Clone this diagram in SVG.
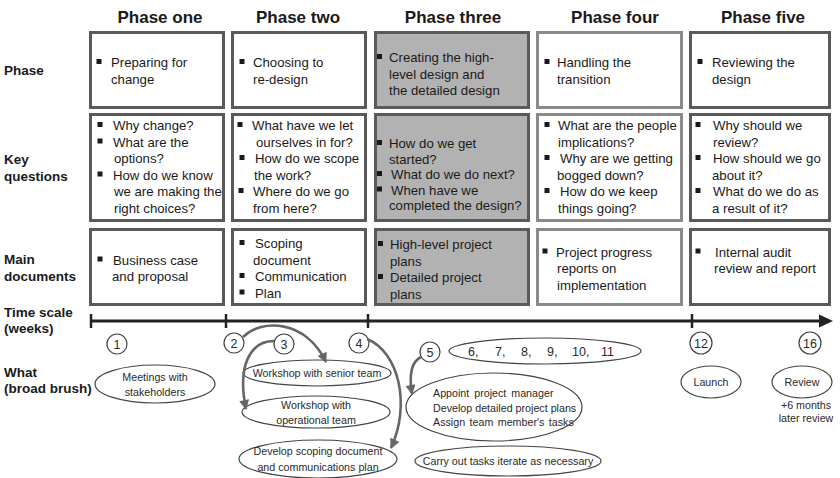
<svg xmlns="http://www.w3.org/2000/svg" width="840" height="478" viewBox="0 0 840 478">
  <defs>
    <style>
      .hdr { font: bold 17px "Liberation Sans", Arial, sans-serif; fill: #1a1a1a; text-anchor: middle; }
      .lbl { font: bold 13.5px "Liberation Sans", Arial, sans-serif; fill: #1a1a1a; }
      .box { fill: #ffffff; stroke: #5a5a5a; stroke-width: 3; }
      .shade { fill: #b2b2b2; }
      .light { stroke: #8a8a8a; }
      .txt { font: 13.2px "Liberation Sans", Arial, sans-serif; fill: #1a1a1a; }
      .bul { fill: #1a1a1a; }
      .ell { fill: #ffffff; stroke: #444444; stroke-width: 1.2; }
      .etx { font: 10.7px "Liberation Sans", Arial, sans-serif; fill: #2a2a2a; text-anchor: middle; }
      .etl { font: 10.7px "Liberation Sans", Arial, sans-serif; fill: #2a2a2a; }
      .num { font: 12.5px "Liberation Sans", Arial, sans-serif; fill: #2a2a2a; text-anchor: middle; }
      .seq { font: 12.5px "Liberation Sans", Arial, sans-serif; fill: #2a2a2a; }
      .axis { stroke: #222222; stroke-width: 3; fill: none; }
      .tick { stroke: #222222; stroke-width: 2.5; }
      .arc { fill: none; stroke: #666666; stroke-width: 2.6; marker-end: url(#ah); }
    </style>
    <marker id="ah" viewBox="0 0 10 10" refX="9" refY="5" markerWidth="11" markerHeight="10" markerUnits="userSpaceOnUse" orient="auto">
      <path d="M0,0 L10,5 L0,10 z" fill="#666666"/>
    </marker>
  </defs>

  <rect width="840" height="478" fill="#ffffff"/>

  <!-- column headings -->
  <g id="headings">
    <text class="hdr" x="160" y="23">Phase one</text>
    <text class="hdr" x="298" y="23">Phase two</text>
    <text class="hdr" x="453" y="23">Phase three</text>
    <text class="hdr" x="615" y="23">Phase four</text>
    <text class="hdr" x="763" y="23">Phase five</text>
  </g>

  <!-- row headings -->
  <g id="row-labels">
    <text class="lbl" x="4" y="75">Phase</text>
    <text class="lbl" x="4" y="164">Key</text>
    <text class="lbl" x="4" y="181">questions</text>
    <text class="lbl" x="4" y="264">Main</text>
    <text class="lbl" x="4" y="281">documents</text>
    <text class="lbl" x="4" y="317">Time scale</text>
    <text class="lbl" x="4" y="333">(weeks)</text>
    <text class="lbl" x="4" y="377">What</text>
    <text class="lbl" x="4" y="393">(broad brush)</text>
  </g>

  <!-- row 1: phase -->
  <g id="phase-1">
    <rect class="box" x="90.5" y="32.5" width="133" height="75"/>
    <rect class="bul" x="96.5" y="59" width="5" height="5"/>
    <text class="txt"><tspan x="111" y="67">Preparing for</tspan><tspan x="111" y="84">change</tspan></text>
  </g>
  <g id="phase-2">
    <rect class="box" x="232.5" y="32.5" width="133" height="75"/>
    <rect class="bul" x="239.5" y="59" width="5" height="5"/>
    <text class="txt"><tspan x="253" y="67">Choosing to</tspan><tspan x="253" y="84">re-design</tspan></text>
  </g>
  <g id="phase-3">
    <rect class="box shade" x="375.5" y="32.5" width="153" height="75"/>
    <rect class="bul" x="377" y="54" width="5" height="5"/>
    <text class="txt"><tspan x="389" y="62">Creating the high-</tspan><tspan x="389" y="78.5">level design and</tspan><tspan x="389" y="95">the detailed design</tspan></text>
  </g>
  <g id="phase-4">
    <rect class="box light" x="537.5" y="32.5" width="144" height="75"/>
    <rect class="bul" x="544.5" y="59" width="5" height="5"/>
    <text class="txt"><tspan x="557" y="67">Handling the</tspan><tspan x="557" y="84">transition</tspan></text>
  </g>
  <g id="phase-5">
    <rect class="box" x="690.5" y="32.5" width="139" height="75"/>
    <rect class="bul" x="697.5" y="59" width="5" height="5"/>
    <text class="txt"><tspan x="712" y="67">Reviewing the</tspan><tspan x="712" y="84">design</tspan></text>
  </g>

  <!-- row 2: key questions -->
  <g id="questions-1">
    <rect class="box" x="90.5" y="114.5" width="133" height="106"/>
    <rect class="bul" x="97.5" y="122" width="5" height="5"/>
    <rect class="bul" x="97.5" y="138.5" width="5" height="5"/>
    <rect class="bul" x="97.5" y="171.5" width="5" height="5"/>
    <text class="txt"><tspan x="113" y="130">Why change?</tspan><tspan x="113" y="146.5">What are the</tspan><tspan x="114" y="163">options?</tspan><tspan x="113" y="179.5">How do we know</tspan><tspan x="114" y="196">we are making the</tspan><tspan x="114" y="212.5">right choices?</tspan></text>
  </g>
  <g id="questions-2">
    <rect class="box" x="232.5" y="114.5" width="133" height="106"/>
    <rect class="bul" x="237.5" y="122" width="5" height="5"/>
    <rect class="bul" x="239.5" y="155" width="5" height="5"/>
    <rect class="bul" x="238.5" y="188" width="5" height="5"/>
    <text class="txt"><tspan x="252" y="130">What have we let</tspan><tspan x="256" y="146.5">ourselves in for?</tspan><tspan x="255" y="163">How do we scope</tspan><tspan x="254" y="179.5">the work?</tspan><tspan x="253" y="196">Where do we go</tspan><tspan x="253" y="212.5">from here?</tspan></text>
  </g>
  <g id="questions-3">
    <rect class="box shade" x="375.5" y="114.5" width="153" height="106"/>
    <rect class="bul" x="377" y="140" width="5" height="5"/>
    <rect class="bul" x="377" y="171" width="5" height="5"/>
    <rect class="bul" x="377" y="186.5" width="5" height="5"/>
    <text class="txt"><tspan x="389" y="148">How do we get</tspan><tspan x="389" y="163.5">started?</tspan><tspan x="391" y="179">What do we do next?</tspan><tspan x="391" y="194.5">When have we</tspan><tspan x="389" y="210">completed the design?</tspan></text>
  </g>
  <g id="questions-4">
    <rect class="box light" x="537.5" y="114.5" width="144" height="106"/>
    <rect class="bul" x="544.5" y="122" width="5" height="5"/>
    <rect class="bul" x="544.5" y="155" width="5" height="5"/>
    <rect class="bul" x="544.5" y="188" width="5" height="5"/>
    <text class="txt"><tspan x="558" y="130">What are the people</tspan><tspan x="558" y="146.5">implications?</tspan><tspan x="560" y="163">Why are we getting</tspan><tspan x="557" y="179.5">bogged down?</tspan><tspan x="560" y="196">How do we keep</tspan><tspan x="558" y="212.5">things going?</tspan></text>
  </g>
  <g id="questions-5">
    <rect class="box" x="690.5" y="114.5" width="139" height="106"/>
    <rect class="bul" x="695.5" y="122" width="5" height="5"/>
    <rect class="bul" x="695.5" y="155" width="5" height="5"/>
    <rect class="bul" x="695.5" y="188" width="5" height="5"/>
    <text class="txt"><tspan x="713" y="130">Why should we</tspan><tspan x="713" y="146.5">review?</tspan><tspan x="713" y="163">How should we go</tspan><tspan x="712" y="179.5">about it?</tspan><tspan x="713" y="196">What do we do as</tspan><tspan x="712" y="212.5">a result of it?</tspan></text>
  </g>

  <!-- row 3: main documents -->
  <g id="documents-1">
    <rect class="box" x="90.5" y="229.5" width="133" height="75"/>
    <rect class="bul" x="97.5" y="256.5" width="5" height="5"/>
    <text class="txt"><tspan x="113" y="264.5">Business case</tspan><tspan x="112" y="281">and proposal</tspan></text>
  </g>
  <g id="documents-2">
    <rect class="box" x="232.5" y="229.5" width="133" height="75"/>
    <rect class="bul" x="239.5" y="240" width="5" height="5"/>
    <rect class="bul" x="239.5" y="273" width="5" height="5"/>
    <rect class="bul" x="239.5" y="289.5" width="5" height="5"/>
    <text class="txt"><tspan x="255" y="248">Scoping</tspan><tspan x="253" y="264.5">document</tspan><tspan x="255" y="281">Communication</tspan><tspan x="255" y="297.5">Plan</tspan></text>
  </g>
  <g id="documents-3">
    <rect class="box shade" x="375.5" y="229.5" width="153" height="75"/>
    <rect class="bul" x="378" y="241" width="5" height="5"/>
    <rect class="bul" x="378" y="274" width="5" height="5"/>
    <text class="txt"><tspan x="390" y="249">High-level project</tspan><tspan x="390" y="265.5">plans</tspan><tspan x="390" y="282">Detailed project</tspan><tspan x="390" y="298.5">plans</tspan></text>
  </g>
  <g id="documents-4">
    <rect class="box light" x="537.5" y="229.5" width="144" height="75"/>
    <rect class="bul" x="542.5" y="248.5" width="5" height="5"/>
    <text class="txt"><tspan x="556" y="256.5">Project progress</tspan><tspan x="557" y="273">reports on</tspan><tspan x="557" y="289.5">implementation</tspan></text>
  </g>
  <g id="documents-5">
    <rect class="box" x="690.5" y="229.5" width="139" height="75"/>
    <rect class="bul" x="695.5" y="248.5" width="5" height="5"/>
    <text class="txt"><tspan x="715" y="256.5">Internal audit</tspan><tspan x="714" y="273">review and report</tspan></text>
  </g>

  <!-- time axis in weeks -->
  <g id="timeline">
    <line class="axis" x1="91" y1="321" x2="822" y2="321"/>
    <path d="M819,314.5 L833,321 L819,327.5 z" fill="#222222"/>
    <line class="tick" x1="91" y1="314" x2="91" y2="328"/>
    <line class="tick" x1="226" y1="314" x2="226" y2="328"/>
    <line class="tick" x1="368" y1="314" x2="368" y2="328"/>
    <line class="tick" x1="692" y1="314" x2="692" y2="328"/>
  </g>

  <!-- week markers -->
  <g id="week-1"><circle class="ell" cx="117" cy="344" r="10"/><text class="num" x="117" y="348.5">1</text></g>
  <g id="week-2"><circle class="ell" cx="234" cy="343" r="10"/><text class="num" x="234" y="347.5">2</text></g>
  <g id="week-3"><circle class="ell" cx="284" cy="344" r="10"/><text class="num" x="284" y="348.5">3</text></g>
  <g id="week-4"><circle class="ell" cx="359" cy="343" r="10"/><text class="num" x="359" y="347.5">4</text></g>
  <g id="week-5"><circle class="ell" cx="430" cy="352" r="10"/><text class="num" x="430" y="356.5">5</text></g>
  <g id="week-12"><circle class="ell" cx="701" cy="343" r="11"/><text class="num" x="701" y="347.5">12</text></g>
  <g id="week-16"><circle class="ell" cx="810" cy="343" r="11"/><text class="num" x="810" y="347.5">16</text></g>
  <g id="weeks-6-11">
    <ellipse class="ell" cx="545" cy="351" rx="96" ry="13"/>
    <text class="seq" y="355.5"><tspan x="468">6,</tspan><tspan x="495">7,</tspan><tspan x="521">8,</tspan><tspan x="547">9,</tspan><tspan x="572">10,</tspan><tspan x="601">11</tspan></text>
  </g>

  <!-- activities -->
  <g id="act-meetings">
    <ellipse class="ell" cx="155" cy="384" rx="60" ry="19"/>
    <text class="etx"><tspan x="155" y="381">Meetings with</tspan><tspan x="155" y="396">stakeholders</tspan></text>
  </g>
  <g id="act-senior">
    <ellipse class="ell" cx="317" cy="373" rx="74" ry="13"/>
    <text class="etx" x="317" y="377">Workshop with senior team</text>
  </g>
  <g id="act-operational">
    <ellipse class="ell" cx="316" cy="412" rx="74" ry="16"/>
    <text class="etx"><tspan x="316" y="409">Workshop with</tspan><tspan x="316" y="424">operational team</tspan></text>
  </g>
  <g id="act-scoping">
    <ellipse class="ell" cx="318" cy="459" rx="79" ry="19"/>
    <text class="etx"><tspan x="318" y="455">Develop scoping document</tspan><tspan x="318" y="471">and communications plan</tspan></text>
  </g>
  <g id="act-plans">
    <ellipse class="ell" cx="494" cy="407" rx="88" ry="34"/>
    <text class="etl"><tspan x="433" y="397" word-spacing="2">Appoint project manager</tspan><tspan x="433" y="411.5">Develop detailed project plans</tspan><tspan x="433" y="426" word-spacing="1.5">Assign team member's tasks</tspan></text>
  </g>
  <g id="act-carry-out">
    <ellipse class="ell" cx="508" cy="461" rx="93" ry="15"/>
    <text class="etx" x="508" y="465">Carry out tasks iterate as necessary</text>
  </g>
  <g id="act-launch">
    <ellipse class="ell" cx="711" cy="382" rx="30" ry="16"/>
    <text class="etx" x="711" y="386">Launch</text>
  </g>
  <g id="act-review">
    <ellipse class="ell" cx="802" cy="382" rx="30" ry="16"/>
    <text class="etx" x="802" y="386">Review</text>
    <text class="etx"><tspan x="806" y="409">+6 months</tspan><tspan x="806" y="422">later review</tspan></text>
  </g>

  <!-- connectors from week markers to activities -->
  <g id="connectors">
    <path class="arc" d="M243,337 C262,318 306,320 326,362"/>
    <path class="arc" d="M274,341 C250,341 237,366 246,409"/>
    <path class="arc" d="M367,339 C399,352 411,405 391,448"/>
    <path class="arc" d="M421,357 C411,362 409,376 412,394"/>
  </g>
</svg>
